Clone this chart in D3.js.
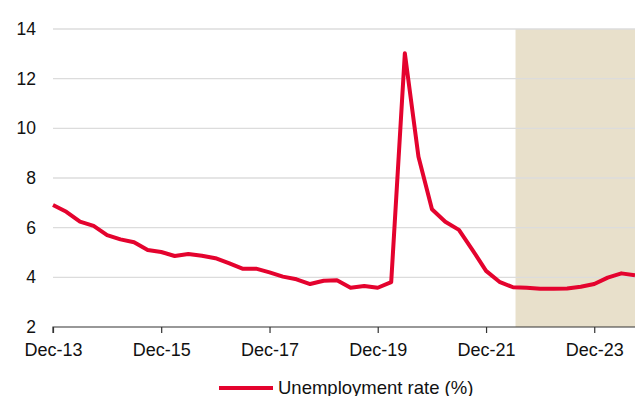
<!DOCTYPE html>
<html>
<head>
<meta charset="utf-8">
<script src="https://cdn.jsdelivr.net/npm/d3@7"></script>
<style>
  html, body { margin: 0; padding: 0; background: #fff; }
  svg { display: block; font-family: "Liberation Sans", Arial, sans-serif; }
</style>
</head>
<body>
<svg id="chart" width="635" height="396"></svg>
<script>
// Quarter-end months
const quarters = [
  "2013-12","2014-03","2014-06","2014-09","2014-12","2015-03","2015-06","2015-09",
  "2015-12","2016-03","2016-06","2016-09","2016-12","2017-03","2017-06","2017-09",
  "2017-12","2018-03","2018-06","2018-09","2018-12","2019-03","2019-06","2019-09",
  "2019-12","2020-03","2020-06","2020-09","2020-12","2021-03","2021-06","2021-09",
  "2021-12","2022-03","2022-06","2022-09","2022-12","2023-03","2023-06","2023-09",
  "2023-12","2024-03","2024-06","2024-09"
];
const unemployment = [
  6.91, 6.64, 6.24, 6.07, 5.70, 5.53, 5.41, 5.10,
  5.02, 4.86, 4.94, 4.87, 4.77, 4.57, 4.35, 4.35,
  4.20, 4.03, 3.92, 3.73, 3.86, 3.88, 3.58, 3.65,
  3.58, 3.81, 13.02, 8.86, 6.74, 6.24, 5.91, 5.10,
  4.26, 3.82, 3.60, 3.58, 3.54, 3.54, 3.55, 3.62,
  3.73, 3.99, 4.16, 4.08
];
const xTickDates = ["2013-12","2015-12","2017-12","2019-12","2021-12","2023-12"];
const xTickLabels = ["Dec-13","Dec-15","Dec-17","Dec-19","Dec-21","Dec-23"];
const yTicks = [2, 4, 6, 8, 10, 12, 14];
const shadeStart = "2022-06";
const seriesName = "Unemployment rate (%)";

const parse = d3.timeParse("%Y-%m");
const data = quarters.map((q, i) => ({ date: parse(q), value: unemployment[i] }));

const svg = d3.select("#chart");
const margin = { left: 53, right: 0, top: 29, bottom: 69 };
const W = 635, H = 396;

const x = d3.scaleTime()
  .domain([parse(quarters[0]), parse(quarters[quarters.length - 1])])
  .range([margin.left, W - margin.right]);
const y = d3.scaleLinear()
  .domain([2, 14])
  .range([H - margin.bottom, margin.top]);

// Shaded forecast area
const sx = x(parse(shadeStart)) + 2.5;
svg.append("rect")
  .attr("x", sx)
  .attr("y", y(14))
  .attr("width", x.range()[1] - sx)
  .attr("height", y(2) - y(14))
  .attr("fill", "#E8E0CB");

// Gridlines
svg.append("g")
  .selectAll("line")
  .data(yTicks.filter(d => d !== 2))
  .join("line")
  .attr("x1", margin.left)
  .attr("x2", W - margin.right)
  .attr("y1", d => y(d))
  .attr("y2", d => y(d))
  .attr("stroke", "#DCDCDC")
  .attr("stroke-width", 1.3);

// Y axis labels
const yAxis = d3.axisLeft(y).tickValues(yTicks).tickSize(0).tickPadding(17).tickFormat(d3.format("d"));
const gy = svg.append("g").attr("transform", `translate(${margin.left},0)`).call(yAxis);
gy.select(".domain").remove();
gy.selectAll("text").attr("font-size", 17.5).attr("fill", "#111").attr("font-family", "Liberation Sans, Arial, sans-serif");

// X axis
const xAxis = d3.axisBottom(x)
  .tickValues(xTickDates.map(parse))
  .tickSize(6)
  .tickPadding(10)
  .tickFormat((d, i) => xTickLabels[i]);
const gx = svg.append("g").attr("transform", `translate(0,${y(2)})`).call(xAxis);
gx.select(".domain").attr("stroke", "#333").attr("stroke-width", 1.2)
  .attr("d", `M${margin.left},6V0H${W - margin.right}`);
gx.selectAll(".tick line").attr("stroke", "#333").attr("stroke-width", 1.2);
gx.selectAll("text").attr("font-size", 18).attr("fill", "#111").attr("font-family", "Liberation Sans, Arial, sans-serif");

// Line
const line = d3.line().x(d => x(d.date)).y(d => y(d.value));
svg.append("path")
  .datum(data)
  .attr("d", line)
  .attr("fill", "none")
  .attr("stroke", "#E4032E")
  .attr("stroke-width", 4)
  .attr("stroke-linejoin", "round");

// Legend
const lg = svg.append("g").attr("transform", "translate(219,388)");
lg.append("line").attr("x1", 0).attr("x2", 54).attr("y1", 0).attr("y2", 0)
  .attr("stroke", "#E4032E").attr("stroke-width", 4);
lg.append("text").attr("x", 59).attr("y", 5.5).text(seriesName)
  .attr("font-size", 18.5).attr("fill", "#111");
</script>
</body>
</html>
